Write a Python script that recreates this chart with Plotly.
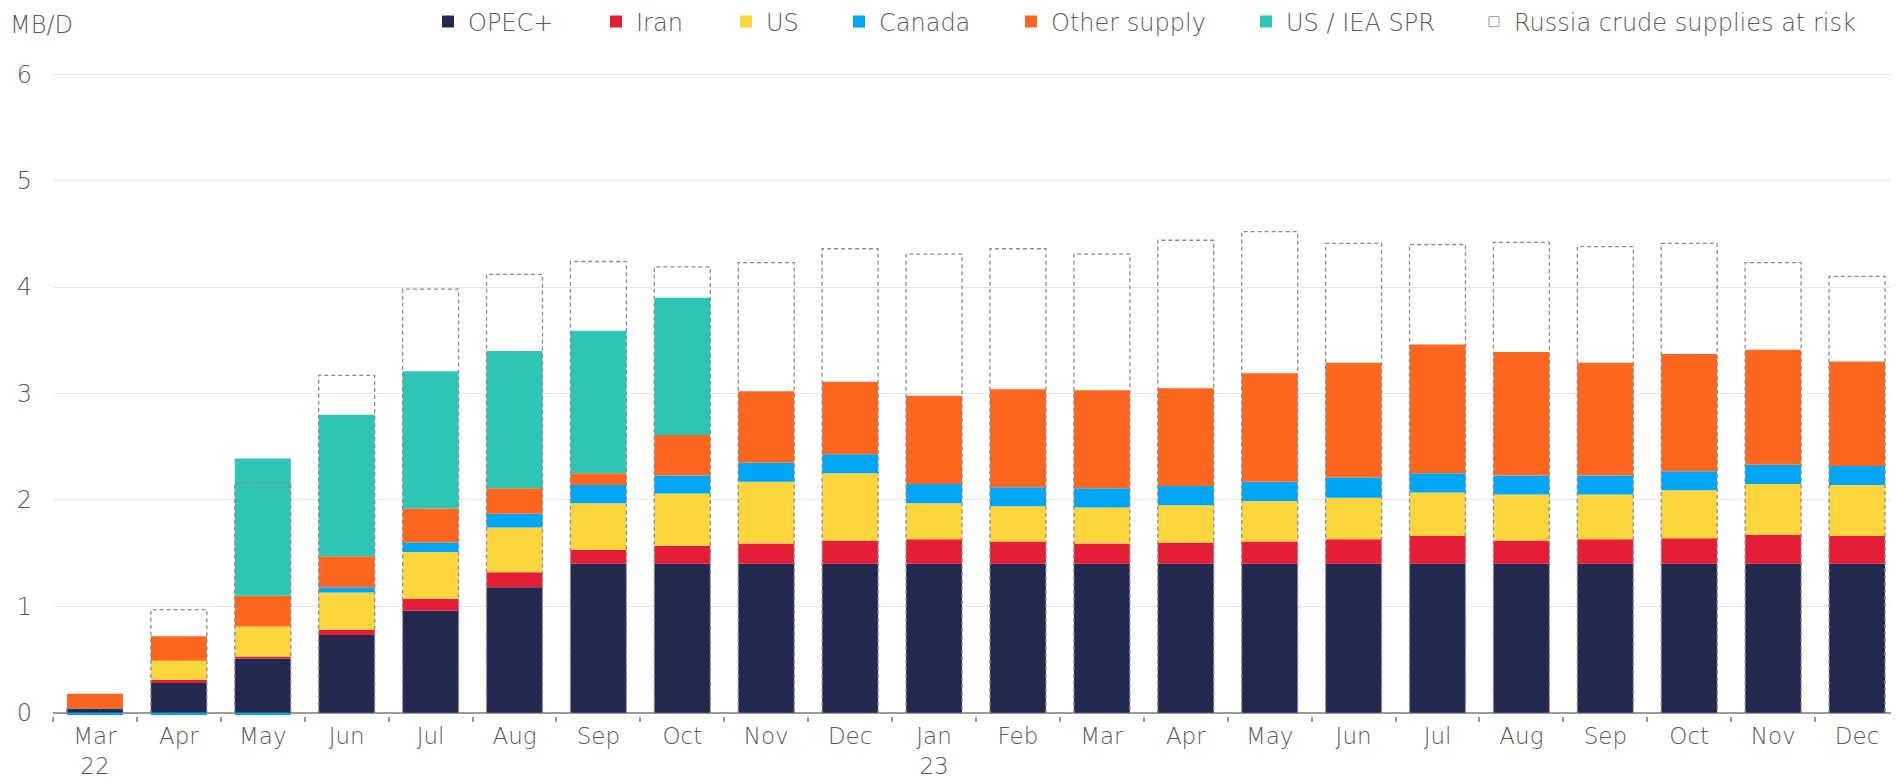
import plotly.graph_objects as go

categories = ["Mar<br>22", "Apr", "May", "Jun", "Jul", "Aug", "Sep", "Oct", "Nov", "Dec",
              "Jan<br>23", "Feb", "Mar", "Apr", "May", "Jun", "Jul", "Aug", "Sep", "Oct", "Nov", "Dec"]

opec = [0.04, 0.28, 0.51, 0.73, 0.96, 1.18, 1.40, 1.40, 1.40, 1.40,
        1.40, 1.40, 1.40, 1.40, 1.40, 1.40, 1.40, 1.40, 1.40, 1.40, 1.40, 1.40]
iran = [0.00, 0.03, 0.02, 0.05, 0.11, 0.14, 0.13, 0.17, 0.19, 0.22,
        0.23, 0.21, 0.19, 0.20, 0.21, 0.23, 0.26, 0.22, 0.23, 0.24, 0.27, 0.26]
us = [0.00, 0.18, 0.28, 0.35, 0.44, 0.42, 0.44, 0.49, 0.58, 0.63,
      0.34, 0.33, 0.34, 0.35, 0.38, 0.39, 0.41, 0.43, 0.42, 0.45, 0.48, 0.48]
canada = [-0.02, -0.02, -0.02, 0.05, 0.09, 0.13, 0.17, 0.17, 0.18, 0.18,
          0.18, 0.18, 0.18, 0.18, 0.18, 0.19, 0.18, 0.18, 0.18, 0.18, 0.18, 0.18]
other = [0.14, 0.23, 0.29, 0.29, 0.32, 0.24, 0.11, 0.38, 0.67, 0.68,
         0.83, 0.92, 0.92, 0.92, 1.02, 1.08, 1.21, 1.16, 1.06, 1.10, 1.08, 0.98]
spr = [0.00, 0.00, 1.29, 1.33, 1.29, 1.29, 1.34, 1.29, 0.00, 0.00,
       0.00, 0.00, 0.00, 0.00, 0.00, 0.00, 0.00, 0.00, 0.00, 0.00, 0.00, 0.00]
russia = [0.04, 0.97, 2.16, 3.17, 3.98, 4.12, 4.24, 4.19, 4.23, 4.36,
          4.31, 4.36, 4.31, 4.44, 4.52, 4.41, 4.40, 4.42, 4.38, 4.41, 4.23, 4.10]

y_ticks = [0, 1, 2, 3, 4, 5, 6]

series = [
    ("OPEC+", opec, "#23284F"),
    ("Iran", iran, "#E41E37"),
    ("US", us, "#FDD63D"),
    ("Canada", canada, "#00A6F6"),
    ("Other supply", other, "#FC661E"),
    ("US / IEA SPR", spr, "#2FC5B5"),
]

FONT = "DejaVu Sans, Liberation Sans, sans-serif"
TXT = "#595959"
OFF = 8            # page body margin offset
W = 1899 - OFF
H = 782 - OFF
BAR_W = 0.667

pos = list(range(len(categories)))

fig = go.Figure()
legend_text_x = [472, 640, 770, 883, 1055, 1290, 1518]

for k, (name, vals, col) in enumerate(series):
    fig.add_trace(go.Bar(
        x=pos, y=vals, name=name, width=BAR_W,
        marker=dict(color=col, line=dict(width=0)),
        legend="legend" if k == 0 else f"legend{k+1}",
    ))

# dashed outline for Russia crude supplies at risk
ox, oy = [], []
for p, v in zip(pos, russia):
    ox += [p - BAR_W / 2, p - BAR_W / 2, p + BAR_W / 2, p + BAR_W / 2, None]
    oy += [0, v, v, 0, None]
fig.add_trace(go.Scatter(
    x=ox, y=oy, mode="lines", showlegend=False, hoverinfo="skip",
    line=dict(color="#8C8C8C", width=1.3, dash="4px,3px"),
))
# legend entry for the dashed outline series
fig.add_trace(go.Scatter(
    x=[None], y=[None], mode="markers", name="Russia crude supplies at risk",
    marker=dict(symbol="square-open", size=10, color="#9A9A9A", line=dict(width=1)),
    legend="legend7",
))

layout_legends = {}
for k, tx in enumerate(legend_text_x):
    key = "legend" if k == 0 else f"legend{k+1}"
    layout_legends[key] = dict(
        xref="container", yref="container",
        x=(tx - 44 - OFF) / W, xanchor="left",
        y=1 - 14 / H, yanchor="middle",
        orientation="h", bgcolor="rgba(0,0,0,0)",
        font=dict(family=FONT, size=24, color=TXT, weight=300),
        itemclick=False, itemdoubleclick=False,
    )

fig.update_layout(
    width=W, height=H,
    margin=dict(l=45, r=0, t=63, b=66, autoexpand=False),
    plot_bgcolor="white", paper_bgcolor="white",
    barmode="relative", bargap=0.333,
    font=dict(family=FONT, size=24, color=TXT, weight=300),
    showlegend=True,
    **layout_legends,
)

fig.update_xaxes(
    range=[-0.5, len(categories) - 0.5],
    tickmode="array", tickvals=pos, ticktext=categories,
    ticks="", showgrid=False, zeroline=False, showline=False,
    automargin=False, ticklabelstandoff=4,
    tickfont=dict(family=FONT, size=23, color=TXT, weight=300),
    minor=dict(tickmode="array", tickvals=[p - 0.5 for p in pos] + [pos[-1] + 0.5],
               ticks="outside", ticklen=5, tickcolor="#9A9A9A", tickwidth=1.5,
               showgrid=False),
)
fig.update_yaxes(
    range=[-0.03, 6.03],
    tickmode="array", tickvals=y_ticks,
    showgrid=True, gridcolor="#E6E6E6", gridwidth=1,
    zeroline=True, zerolinecolor="#9A9A9A", zerolinewidth=1.5,
    showline=False, ticks="", ticklabelstandoff=20, automargin=False,
    tickfont=dict(family=FONT, size=24, color=TXT, weight=300),
)

fig.add_annotation(
    text="MB/D", xref="paper", yref="paper", x=0, y=1,
    xanchor="left", yanchor="middle", xshift=-44, yshift=46,
    borderpad=0,
    showarrow=False, font=dict(family=FONT, size=24, color=TXT, weight=300),
)

fig.write_html("out.html")
